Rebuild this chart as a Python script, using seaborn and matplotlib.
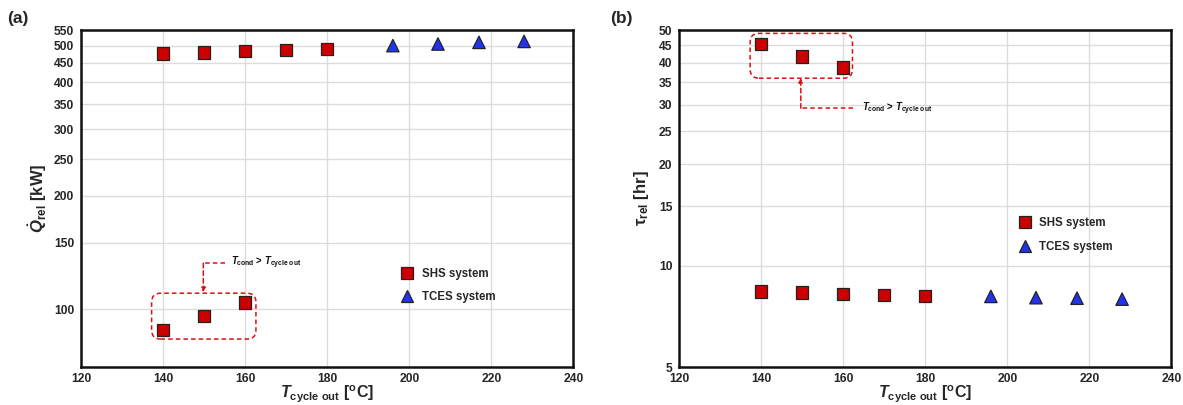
import matplotlib
matplotlib.use("Agg")
import matplotlib.pyplot as plt
from matplotlib.ticker import FixedLocator, MultipleLocator, FuncFormatter, NullFormatter
from matplotlib.patches import FancyBboxPatch
import seaborn as sns
import pandas as pd

# ---------------- data ----------------
shs_T = [140, 150, 160, 170, 180]
tces_T = [196, 207, 217, 228]

shs_Q_high = [477, 480, 484, 487, 490]
shs_Q_low_T = [140, 150, 160]
shs_Q_low = [88, 96, 104]
tces_Q = [500, 505, 510, 513]

shs_tau_high_T = [140, 150, 160]
shs_tau_high = [45.5, 41.7, 38.7]
shs_tau = [8.37, 8.31, 8.25, 8.18, 8.13]
tces_tau = [8.1, 8.03, 8.0, 7.95]

x_ticks = [120, 140, 160, 180, 200, 220, 240]
q_ticks = [100, 150, 200, 250, 300, 350, 400, 450, 500, 550]
tau_ticks = [5, 10, 15, 20, 25, 30, 35, 40, 45, 50]
labels = ["SHS system", "TCES system"]

# ---------------- style ----------------
sns.set_theme(style="white")
plt.rcParams["font.family"] = ["Liberation Sans", "DejaVu Sans"]
plt.rcParams["font.weight"] = "bold"
plt.rcParams["axes.labelweight"] = "bold"
plt.rcParams["mathtext.fontset"] = "custom"
plt.rcParams["mathtext.rm"] = "Liberation Sans:bold"
plt.rcParams["mathtext.bf"] = "Liberation Sans:bold"
plt.rcParams["mathtext.it"] = "Liberation Sans:italic:bold"

RED = "#cc0000"
BLUE = "#2233ee"
ANN = "#dd1111"

df_q = pd.DataFrame({
    "T": shs_T + shs_Q_low_T + tces_T,
    "v": shs_Q_high + shs_Q_low + tces_Q,
    "sys": [labels[0]] * (len(shs_T) + len(shs_Q_low_T)) + [labels[1]] * len(tces_T),
})
df_t = pd.DataFrame({
    "T": shs_tau_high_T + shs_T + tces_T,
    "v": shs_tau_high + shs_tau + tces_tau,
    "sys": [labels[0]] * (len(shs_tau_high_T) + len(shs_T)) + [labels[1]] * len(tces_T),
})

fig = plt.figure(figsize=(11.83, 4.05), dpi=100)
ax1 = fig.add_axes([0.0687, 0.0938, 0.4159, 0.8321])
ax2 = fig.add_axes([0.5742, 0.0938, 0.4159, 0.8321])

palette = {labels[0]: RED, labels[1]: BLUE}
markers = {labels[0]: "s", labels[1]: "^"}


def style_axes(ax, yticks, ylim, yminor):
    ax.set_yscale("log")
    ax.set_xlim(120, 240)
    ax.set_ylim(*ylim)
    ax.xaxis.set_major_locator(FixedLocator(x_ticks))
    ax.xaxis.set_minor_locator(MultipleLocator(5))
    ax.yaxis.set_major_locator(FixedLocator(yticks))
    ax.yaxis.set_minor_locator(MultipleLocator(yminor))
    ax.yaxis.set_major_formatter(FuncFormatter(lambda v, p: f"{v:g}"))
    ax.yaxis.set_minor_formatter(NullFormatter())
    ax.grid(True, which="major", color="#dcdcdc", lw=1.0)
    ax.set_axisbelow(True)
    for s in ax.spines.values():
        s.set_color("#111111")
        s.set_linewidth(1.8)
    ax.tick_params(axis="both", which="major", direction="in", length=7, width=1.3,
                   color="#111111", top=False, right=False)
    ax.tick_params(axis="both", which="minor", direction="in", length=4, width=0.8,
                   color="#666666", top=False, right=False)
    ax.tick_params(axis="x", which="major", labelsize=8.7, pad=4.5)
    ax.tick_params(axis="y", which="major", labelsize=8.7, pad=5)
    ax.set_xlabel(r"$T_{\mathbf{cycle\ out}}$ [$^{\mathbf{o}}$C]", fontsize=11.5,
                  fontweight="bold", labelpad=-1)


for ax, df in ((ax1, df_q), (ax2, df_t)):
    sns.scatterplot(data=df, x="T", y="v", hue="sys", style="sys", palette=palette,
                    markers=markers, s=80, edgecolor="#222222", linewidth=0.9,
                    ax=ax, zorder=3)

style_axes(ax1, q_ticks, (70.2, 550), 10)
style_axes(ax2, tau_ticks, (5, 50), 1)

ax1.set_ylabel(r"$\dot{Q}_{\mathbf{rel}}$ [kW]", fontsize=12, fontweight="bold", labelpad=4)
ax2.set_ylabel(r"$\mathbf{\tau}_{\mathbf{rel}}$ [hr]", fontsize=12, fontweight="bold", labelpad=6)

sns.move_legend(ax1, loc="center left", bbox_to_anchor=(0.651, 0.242), frameon=False,
                title=None, prop={"weight": "bold", "size": 8.3}, handlelength=1.0,
                handletextpad=0.74, labelspacing=1.0, borderpad=0, borderaxespad=0)
sns.move_legend(ax2, loc="center left", bbox_to_anchor=(0.690, 0.391), frameon=False,
                title=None, prop={"weight": "bold", "size": 8.3}, handlelength=1.0,
                handletextpad=0.74, labelspacing=1.0, borderpad=0, borderaxespad=0)

aspect = (0.4159 * 11.83) / (0.8321 * 4.05)


def rbox(ax, x0, y0, x1, y1):
    p = FancyBboxPatch((x0, y0), x1 - x0, y1 - y0,
                       boxstyle="round,pad=0,rounding_size=0.018",
                       mutation_aspect=aspect, transform=ax.transAxes,
                       fill=False, edgecolor=ANN, lw=1.1, ls=(0, (3, 2)), zorder=4)
    ax.add_patch(p)


def dashed(ax, xs, ys):
    ax.plot(xs, ys, transform=ax.transAxes, color=ANN, lw=1.1, ls=(0, (3, 2)),
            zorder=4, clip_on=False)


def arrow(ax, x0, y0, x1, y1):
    ax.annotate("", xy=(x1, y1), xytext=(x0, y0), xycoords="axes fraction",
                arrowprops=dict(arrowstyle="-|>", color=ANN, lw=1.1, ls=(0, (3, 2)),
                                mutation_scale=6, shrinkA=0, shrinkB=0), zorder=4)


ann_text = r"$T_{\mathbf{cond}}$ > $T_{\mathbf{cycle\ out}}$"

# (a) annotation
rbox(ax1, 0.143, 0.083, 0.355, 0.219)
dashed(ax1, [0.292, 0.248], [0.308, 0.308])
arrow(ax1, 0.248, 0.308, 0.248, 0.222)
ax1.text(0.304, 0.308, ann_text, transform=ax1.transAxes, fontsize=6.9,
         fontweight="bold", va="center", ha="left", color="#111111")

# (b) annotation
rbox(ax2, 0.144, 0.857, 0.352, 0.990)
dashed(ax2, [0.353, 0.247], [0.768, 0.768])
arrow(ax2, 0.247, 0.768, 0.247, 0.858)
ax2.text(0.371, 0.766, ann_text, transform=ax2.transAxes, fontsize=6.9,
         fontweight="bold", va="center", ha="left", color="#111111")

fig.text(18 / 1183, 1 - 18 / 405, "(a)", fontsize=12.5, fontweight="bold",
         ha="center", va="center")
fig.text(621 / 1183, 1 - 18 / 405, "(b)", fontsize=12.5, fontweight="bold",
         ha="center", va="center")

fig.savefig("out.png", dpi=100)
